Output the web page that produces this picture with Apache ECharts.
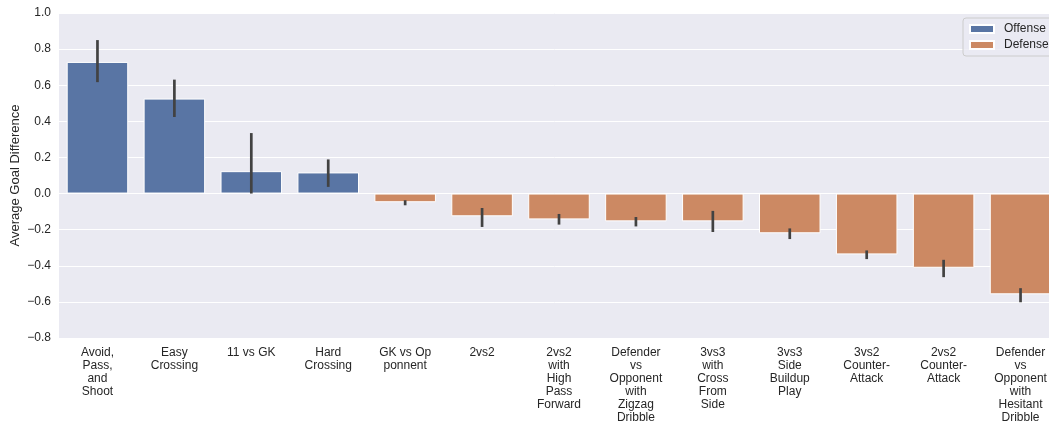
<!DOCTYPE html>
<html>
<head>
<meta charset="utf-8">
<script src="https://cdn.jsdelivr.net/npm/echarts@6/dist/echarts.min.js"></script>
<style>html,body{margin:0;padding:0;background:#fff;}#c{width:1049px;height:424px;}</style>
</head>
<body>
<div id="c"></div>
<script>
const categories = ["Avoid,\nPass,\nand\nShoot", "Easy\nCrossing", "11 vs GK", "Hard\nCrossing", "GK vs Op\nponnent", "2vs2", "2vs2\nwith\nHigh\nPass\nForward", "Defender\nvs\nOpponent\nwith\nZigzag\nDribble", "3vs3\nwith\nCross\nFrom\nSide", "3vs3\nSide\nBuildup\nPlay", "3vs2\nCounter-\nAttack", "2vs2\nCounter-\nAttack", "Defender\nvs\nOpponent\nwith\nHesitant\nDribble"];
const offense = [0.729, 0.526, 0.124, 0.117, null, null, null, null, null, null, null, null, null];
const defense = [null, null, null, null, -0.048, -0.126, -0.143, -0.154, -0.154, -0.220, -0.337, -0.411, -0.558];
const errLow = [0.617, 0.424, 0.0, 0.037, -0.065, -0.185, -0.172, -0.182, -0.213, -0.252, -0.363, -0.463, -0.602];
const errHigh = [0.850, 0.631, 0.335, 0.189, -0.037, -0.080, -0.113, -0.130, -0.096, -0.193, -0.315, -0.367, -0.524];
const yTicks = [-0.8, 1.0, 0.2];

const font = "'Liberation Sans', Arial, sans-serif";
const chart = echarts.init(document.getElementById('c'));
chart.setOption({
  animation: false,
  backgroundColor: '#ffffff',
  textStyle: {fontFamily: font},
  grid: {left: 59, top: 13, width: 1000, height: 325, containLabel: false, outerBoundsMode: 'none',
         show: true, backgroundColor: '#eaeaf2', borderWidth: 0},
  legend: {
    orient: 'vertical', left: 963, top: 18,
    data: ['Offense', 'Defense'],
    itemWidth: 24, itemHeight: 8, itemGap: 4,
    padding: [5, 8, 5, 6],
    backgroundColor: 'rgba(234,234,242,0.8)',
    borderColor: '#cccccc', borderWidth: 1, borderRadius: 3,
    textStyle: {fontFamily: font, fontSize: 12, color: '#262626', padding: [0, 0, 0, 5]},
    icon: 'rect'
  },
  xAxis: {
    type: 'category', data: categories,
    axisLine: {show: false}, axisTick: {show: false},
    axisLabel: {interval: 0, color: '#262626', fontSize: 12, lineHeight: 13, margin: 8, fontFamily: font},
    splitLine: {show: false}
  },
  yAxis: {
    type: 'value', min: yTicks[0], max: yTicks[1], interval: yTicks[2],
    name: 'Average Goal Difference', nameLocation: 'middle', nameGap: 37, nameMoveOverlap: false,
    nameTextStyle: {color: '#262626', fontSize: 13, fontFamily: font},
    axisLine: {show: false}, axisTick: {show: false},
    axisLabel: {color: '#262626', fontSize: 12, margin: 8, fontFamily: font,
      formatter: v => { const s = (Math.round(v * 10) / 10).toFixed(1); return s.replace('-', '\u2212'); }},
    splitLine: {lineStyle: {color: '#ffffff', width: 1}}
  },
  series: [
    {name: 'Offense', type: 'bar', data: offense, barWidth: '80%', barGap: '-100%',
     itemStyle: {color: '#5975a4', borderColor: '#ffffff', borderWidth: 1}},
    {name: 'Defense', type: 'bar', data: defense, barWidth: '80%', barGap: '-100%',
     itemStyle: {color: '#cc8963', borderColor: '#ffffff', borderWidth: 1}},
    {name: 'err', type: 'custom', z: 10,
     data: categories.map((c, i) => [i, errLow[i], errHigh[i]]),
     renderItem: (params, api) => {
       const p1 = api.coord([api.value(0), api.value(1)]);
       const p2 = api.coord([api.value(0), api.value(2)]);
       return {type: 'line', shape: {x1: p1[0], y1: p1[1], x2: p2[0], y2: p2[1]},
               style: {stroke: '#424242', lineWidth: 2.7}};
     }}
  ]
});
</script>
</body>
</html>
